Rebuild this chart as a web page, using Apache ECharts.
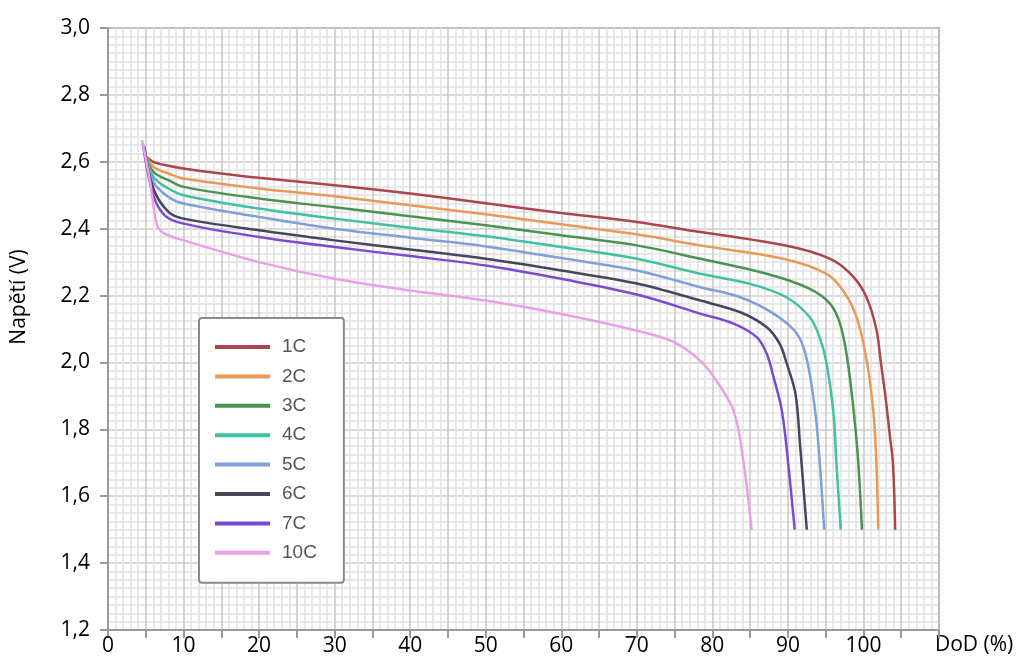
<!DOCTYPE html>
<html>
<head>
<meta charset="utf-8">
<script src="https://cdn.jsdelivr.net/npm/echarts@6/dist/echarts.min.js"></script>
<style>
  html, body { margin: 0; padding: 0; background: #fff; }
  #chart { width: 1025px; height: 664px; }
</style>
</head>
<body>
<div id="chart"></div>
<script>
// legend names and line colours
const seriesNames = ['1C', '2C', '3C', '4C', '5C', '6C', '7C', '10C'];
const seriesColors = ['#a9464f', '#e89a56', '#4b9352', '#3fc1a2', '#7fa0d8', '#45465c', '#7b4bcf', '#eaa0e6'];

// discharge curves, [DoD %, voltage V]
const c1 = [[4.8, 2.62], [6, 2.6], [8, 2.588], [10, 2.58], [15, 2.565], [20, 2.552], [30, 2.53], [40, 2.505], [50, 2.476], [60, 2.447], [70, 2.42], [78.4, 2.39], [85, 2.368], [91.6, 2.34], [96, 2.305], [98.7, 2.255], [100.4, 2.195], [101.7, 2.1], [102.3, 2.0], [102.9, 1.9], [103.5, 1.78], [103.9, 1.7], [104.2, 1.5]];
const c2 = [[4.8, 2.625], [6, 2.585], [8, 2.565], [10, 2.55], [20, 2.52], [30, 2.497], [40, 2.47], [50, 2.443], [60, 2.413], [70, 2.383], [78.4, 2.35], [89.4, 2.31], [95.1, 2.265], [97.3, 2.215], [99.1, 2.135], [100.4, 2.01], [101.3, 1.856], [101.7, 1.706], [101.96, 1.5]];
const c3 = [[4.8, 2.63], [6, 2.57], [8, 2.545], [10, 2.525], [20, 2.49], [30, 2.464], [40, 2.437], [50, 2.41], [60, 2.38], [70, 2.35], [78.4, 2.31], [87.2, 2.265], [92.9, 2.22], [95.6, 2.175], [96.9, 2.116], [97.8, 2.02], [98.7, 1.856], [99.3, 1.706], [99.8, 1.5]];
const c4 = [[4.8, 2.635], [6, 2.555], [8, 2.52], [10, 2.5], [20, 2.46], [30, 2.43], [40, 2.403], [50, 2.377], [60, 2.345], [70, 2.31], [78.4, 2.265], [85, 2.235], [89.8, 2.195], [92.9, 2.135], [94.2, 2.075], [95.1, 2.0], [96, 1.856], [96.4, 1.706], [97, 1.5]];
const c5 = [[4.8, 2.64], [6, 2.54], [8, 2.495], [10, 2.475], [20, 2.435], [30, 2.4], [40, 2.373], [50, 2.347], [60, 2.312], [70, 2.275], [78.4, 2.225], [83.7, 2.195], [88.1, 2.146], [91.2, 2.086], [92.5, 2.01], [93.6, 1.856], [94.2, 1.706], [94.8, 1.5]];
const c6 = [[4.8, 2.645], [6, 2.52], [8, 2.45], [10, 2.43], [20, 2.395], [30, 2.365], [40, 2.338], [50, 2.31], [60, 2.275], [70, 2.236], [78.4, 2.185], [83.7, 2.15], [87.2, 2.105], [88.9, 2.056], [89.8, 2.0], [91, 1.906], [91.6, 1.756], [92.5, 1.5]];
const c7 = [[4.6, 2.655], [6, 2.5], [7.5, 2.44], [10, 2.415], [20, 2.375], [30, 2.345], [40, 2.318], [50, 2.29], [60, 2.25], [70, 2.203], [78.4, 2.146], [82.8, 2.116], [85.9, 2.075], [87.2, 2.026], [88.1, 1.956], [89.2, 1.856], [90, 1.706], [90.9, 1.5]];
const c10 = [[4.5, 2.665], [5.5, 2.55], [6.5, 2.41], [7.5, 2.385], [10, 2.365], [20, 2.3], [30, 2.25], [40, 2.215], [50, 2.185], [60, 2.145], [70, 2.095], [75, 2.06], [78.4, 2.005], [80.2, 1.956], [82.8, 1.856], [84.1, 1.706], [85.2, 1.5]];

const curves = [c1, c2, c3, c4, c5, c6, c7, c10];

const chart = echarts.init(document.getElementById('chart'), null, { renderer: 'canvas' });

const axisFont = '"Open Sans", "Noto Sans", sans-serif';

const option = {
    backgroundColor: '#fff',
    animation: false,
    grid: {
        left: 108,
        top: 28,
        right: 86,
        bottom: 34,
        show: true,
        borderColor: '#9a9a9a',
        borderWidth: 2,
        backgroundColor: '#fff'
    },
    legend: {
        orient: 'vertical',
        left: 199,
        top: 318,
        data: seriesNames,
        icon: 'rect',
        itemWidth: 55,
        itemHeight: 4,
        itemGap: 7.4,
        padding: [18, 27, 19, 16],
        backgroundColor: '#fff',
        borderColor: '#8a8a8a',
        borderWidth: 2,
        borderRadius: 3,
        textStyle: {
            color: '#555',
            fontFamily: '"Liberation Sans", Arial, sans-serif',
            fontSize: 19,
            lineHeight: 22,
            padding: [0, 0, 0, 7]
        }
    },
    xAxis: {
        type: 'value',
        min: 0,
        max: 110,
        interval: 5,
        name: 'DoD (%)',
        nameLocation: 'end',
        nameGap: -4,
        nameTextStyle: {
            color: '#000',
            fontFamily: axisFont,
            fontSize: 21,
            verticalAlign: 'top',
            padding: [5, 0, 0, 0]
        },
        axisLine: { show: true, lineStyle: { color: '#9a9a9a', width: 2 } },
        axisTick: { show: true, length: 8, lineStyle: { color: '#9a9a9a', width: 2 } },
        axisLabel: {
            color: '#000',
            fontFamily: axisFont,
            fontSize: 21,
            margin: 6,
            formatter: v => (v % 10 === 0 && v <= 100) ? String(v) : ''
        },
        splitLine: { show: true, lineStyle: { color: '#c6c6c6', width: 1.5 } },
        minorTick: { show: false, splitNumber: 5 },
        minorSplitLine: { show: true, lineStyle: { color: '#e2e2e2', width: 1.5 } }
    },
    yAxis: {
        type: 'value',
        min: 1.2,
        max: 3.0,
        interval: 0.2,
        name: 'Napětí (V)',
        nameLocation: 'middle',
        nameGap: 78,
        nameRotate: 90,
        nameTextStyle: {
            color: '#000',
            fontFamily: axisFont,
            fontSize: 21,
            padding: [0, 0, 0, 64]
        },
        axisLine: { show: true, lineStyle: { color: '#9a9a9a', width: 2 } },
        axisTick: { show: true, length: 8, lineStyle: { color: '#9a9a9a', width: 2 } },
        axisLabel: {
            color: '#000',
            fontFamily: axisFont,
            fontSize: 21,
            margin: 18,
            formatter: v => v.toFixed(1).replace('.', ',')
        },
        splitLine: { show: true, lineStyle: { color: '#cccccc', width: 1.5 } },
        minorTick: { show: false, splitNumber: 8 },
        minorSplitLine: { show: true, lineStyle: { color: '#e2e2e2', width: 1.5 } }
    },
    series: seriesNames.map((name, i) => ({
        name: name,
        type: 'line',
        data: curves[i],
        smooth: 0.35,
        symbol: 'none',
        color: seriesColors[i],
        lineStyle: { width: 2.5, color: seriesColors[i] }
    }))
};

chart.setOption(option);
</script>
</body>
</html>
